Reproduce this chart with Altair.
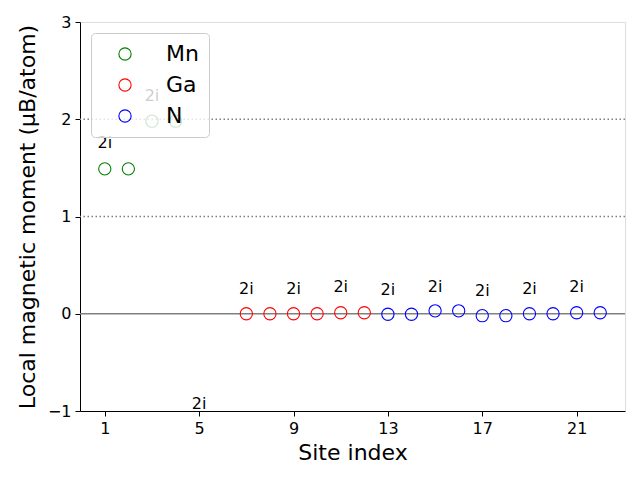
import altair as alt
import pandas as pd

# Site data
mn_sites = [1, 2, 3, 4]
mn_vals = [1.49, 1.49, 1.98, 1.98]
ga_sites = [7, 8, 9, 10, 11, 12]
ga_vals = [0.0, 0.0, 0.0, 0.0, 0.01, 0.01]
n_sites = [13, 14, 15, 16, 17, 18, 19, 20, 21, 22]
n_vals = [-0.005, -0.005, 0.03, 0.03, -0.02, -0.02, 0.0, 0.0, 0.01, 0.01]

# Wyckoff labels
label_sites = [1, 3, 5, 7, 9, 11, 13, 15, 17, 19, 21]
label_y = [1.76, 2.24, -0.925, 0.25, 0.25, 0.27, 0.24, 0.28, 0.23, 0.25, 0.27]
label_text = ["2i"] * len(label_sites)

x_ticks = [1, 5, 9, 13, 17, 21]
y_ticks = [-1, 0, 1, 2, 3]
species = ["Mn", "Ga", "N"]
colors = ["#008000", "#ff0000", "#0000ff"]

rows = []
for s, v in zip(mn_sites, mn_vals):
    rows.append({"site": s, "moment": v, "elem": "Mn"})
for s, v in zip(ga_sites, ga_vals):
    rows.append({"site": s, "moment": v, "elem": "Ga"})
for s, v in zip(n_sites, n_vals):
    rows.append({"site": s, "moment": v, "elem": "N"})
df = pd.DataFrame(rows)

lab = pd.DataFrame({"site": label_sites, "y": label_y, "t": label_text})
hl = pd.DataFrame({"y": [0, 1, 2], "kind": ["solid", "dot", "dot"]})

xs = alt.Scale(domain=[-0.05, 23.05], nice=False, zero=False)
ys = alt.Scale(domain=[-1, 3], nice=False)

xax = alt.Axis(values=x_ticks, title="Site index", grid=False, labelFontSize=16,
               titleFontSize=22, tickSize=5, labelPadding=4, titleFontWeight="normal",
               titlePadding=6, format="d",
               domainColor="black", tickColor="black", labelColor="black", titleColor="black")
yax = alt.Axis(values=y_ticks, title="Local magnetic moment (μB/atom)", grid=False,
               labelFontSize=16, titleFontSize=22, tickSize=5, titleFontWeight="normal",
               format="d", labelPadding=4,
               domainColor="black", tickColor="black", labelColor="black", titleColor="black",
               titlePadding=8)

solid = alt.Chart(hl[hl.kind == "solid"]).mark_rule(color="gray", strokeWidth=1.5).encode(
    y=alt.Y("y:Q", scale=ys, axis=yax))
dots = alt.Chart(hl[hl.kind == "dot"]).mark_rule(color="gray", strokeWidth=1.5, strokeDash=[1.5, 2.5]).encode(
    y=alt.Y("y:Q", scale=ys))

pts = alt.Chart(df).mark_point(filled=False, size=150, strokeWidth=1.1, opacity=1).encode(
    x=alt.X("site:Q", scale=xs, axis=xax),
    y=alt.Y("moment:Q", scale=ys),
    color=alt.Color("elem:N", scale=alt.Scale(domain=species, range=colors),
                    legend=alt.Legend(title=None, orient="none", legendX=11, legendY=11,
                                      labelFontSize=22, symbolSize=150, symbolStrokeWidth=1.1,
                                      symbolType="circle", symbolFillColor="transparent",
                                      padding=10, symbolOffset=13, labelOffset=30, rowPadding=9,
                                      fillColor="rgba(255,255,255,0.8)", strokeColor="#cccccc",
                                      cornerRadius=4, labelColor="black", offset=0)),
)

txt = alt.Chart(lab).mark_text(fontSize=16, color="black", baseline="middle", align="center").encode(
    x=alt.X("site:Q", scale=xs), y=alt.Y("y:Q", scale=ys), text="t:N")

chart = alt.layer(solid, dots, pts, txt).properties(
    width=545, height=389,
    autosize=alt.AutoSizeParams(type="none"),
    padding={"left": 80, "top": 22, "right": 15, "bottom": 69},
).configure_view(stroke="black", strokeWidth=1).configure(font="DejaVu Sans")

chart.save("out.html", embed_options={"renderer": "svg", "actions": False})
